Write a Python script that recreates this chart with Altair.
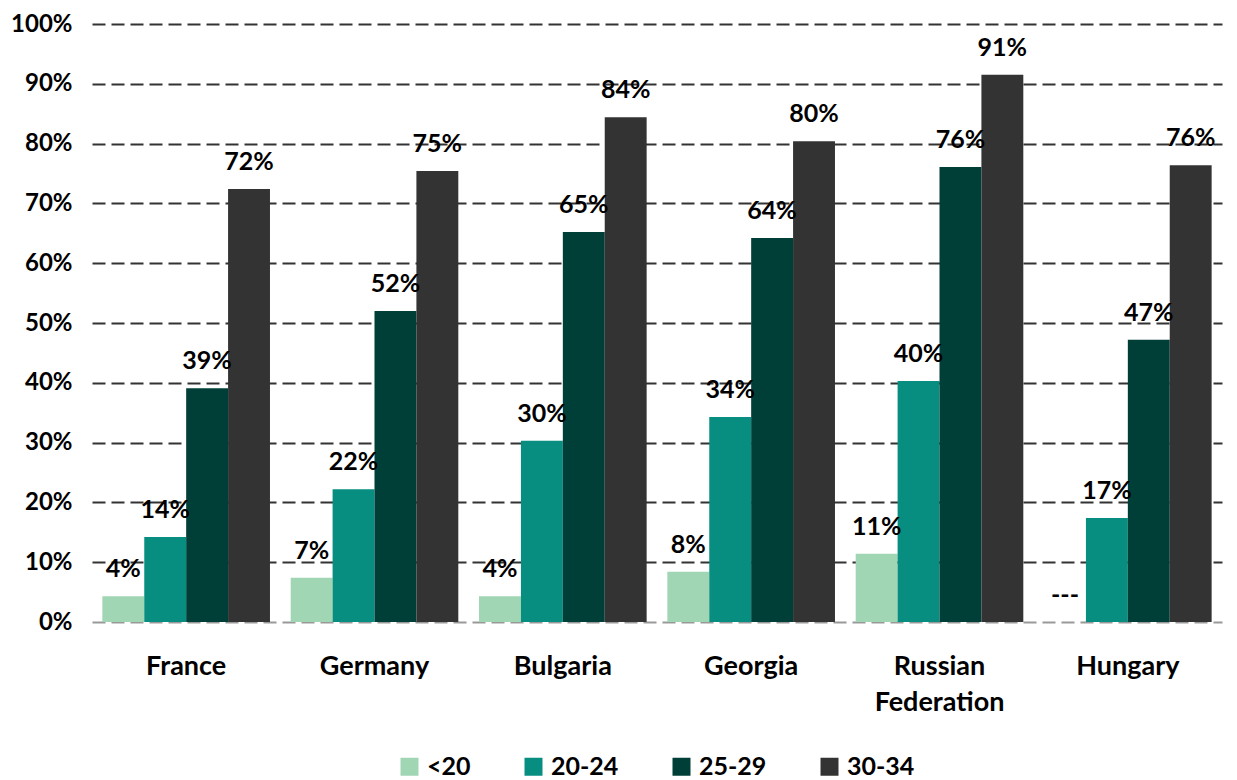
import altair as alt
import pandas as pd

countries = ["France", "Germany", "Bulgaria", "Georgia", "Russian Federation", "Hungary"]
groups = ["<20", "20-24", "25-29", "30-34"]
colors = ["#A0D6B4", "#078E80", "#003F37", "#333333"]

v_lt20 = [4.3, 7.4, 4.3, 8.4, 11.4, None]
v_2024 = [14.2, 22.2, 30.3, 34.3, 40.3, 17.4]
v_2529 = [39.1, 52.0, 65.2, 64.2, 76.1, 47.2]
v_3034 = [72.4, 75.4, 84.4, 80.4, 91.5, 76.4]

lab_lt20 = ["4%", "7%", "4%", "8%", "11%", "---"]
lab_2024 = ["14%", "22%", "30%", "34%", "40%", "17%"]
lab_2529 = ["39%", "52%", "65%", "64%", "76%", "47%"]
lab_3034 = ["72%", "75%", "84%", "80%", "91%", "76%"]

rows = []
for g, vals, labs in zip(groups, [v_lt20, v_2024, v_2529, v_3034],
                         [lab_lt20, lab_2024, lab_2529, lab_3034]):
    for c, v, l in zip(countries, vals, labs):
        rows.append({"country": c, "group": g, "value": v,
                     "pos": v if v is not None else 0, "label": l})
df = pd.DataFrame(rows)

FONT = "Lato"

x_enc = alt.X("country:N", sort=countries, title=None,
              scale=alt.Scale(paddingInner=0.11, paddingOuter=0.055),
              axis=alt.Axis(labelExpr="datum.label == 'Russian Federation' ? ['Russian', 'Federation'] : datum.label",
                            labelAngle=0, domain=False, ticks=False, tickSize=0,
                            labelPadding=31, labelFontSize=27, labelFont=FONT,
                            labelFontWeight="bold", labelColor="#000000",
                            labelLineHeight=36, grid=False))
xoff = alt.XOffset("group:N", sort=groups, scale=alt.Scale(paddingInner=0, paddingOuter=0))

y_enc = alt.Y("value:Q", title=None,
              scale=alt.Scale(domain=[0, 100], nice=False),
              axis=alt.Axis(values=list(range(0, 101, 10)),
                            labelExpr="datum.value + '%'",
                            domain=False, ticks=False, labelPadding=20,
                            labelFontSize=24, labelFont=FONT, labelFontWeight="bold",
                            labelColor="#000000",
                            grid=True,
                            gridColor={"condition": {"test": "datum.value === 0", "value": "#999999"},
                                       "value": "#333333"},
                            gridDash=[13, 6], gridWidth=2))

bars = alt.Chart(df).mark_bar(stroke=None).encode(
    x=x_enc,
    xOffset=xoff,
    y=y_enc,
    color=alt.Color("group:N", sort=groups,
                    scale=alt.Scale(domain=groups, range=colors),
                    legend=alt.Legend(title=None, orient="none", legendX=305, legendY=730,
                                      direction="horizontal", symbolType="square",
                                      symbolSize=324, symbolStrokeWidth=0,
                                      columnPadding=50, labelOffset=5,
                                      labelFontSize=25, labelFont=FONT,
                                      labelFontWeight="bold", labelColor="#000000",
                                      padding=0)),
)

texts = alt.Chart(df).mark_text(baseline="alphabetic", align="center", dy=-19,
                                fontSize=25, font=FONT, fontWeight="bold",
                                color="#000000").encode(
    x=alt.X("country:N", sort=countries),
    xOffset=alt.XOffset("group:N", sort=groups),
    y=alt.Y("pos:Q"),
    text="label:N",
)

chart = alt.layer(bars, texts).properties(
    width=1130, height=598,
    background="white",
    autosize=alt.AutoSizeParams(type="none"),
    padding={"left": 92, "top": 24, "right": 15, "bottom": 158},
).configure_view(stroke=None)

chart.save("out.html", embed_options={"renderer": "svg", "actions": False})
